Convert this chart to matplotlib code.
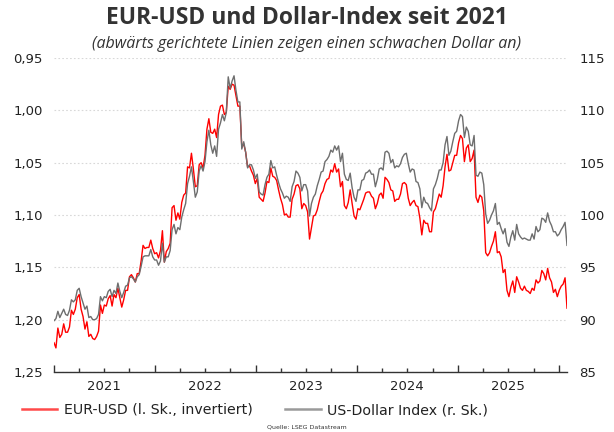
import matplotlib
matplotlib.use("Agg")
import matplotlib.pyplot as plt
import matplotlib.dates as mdates
from matplotlib.lines import Line2D
from matplotlib.ticker import FuncFormatter, NullFormatter
import pandas as pd

# weekly values (Fridays)
eurusd_2021 = [1.222, 1.227, 1.208, 1.217, 1.214, 1.204, 1.212, 1.212, 1.207, 1.191,
               1.195, 1.190, 1.179, 1.176, 1.190, 1.197, 1.209, 1.202, 1.216, 1.214,
               1.218, 1.219, 1.216, 1.211, 1.186, 1.194, 1.186, 1.187, 1.180, 1.177,
               1.187, 1.176, 1.179, 1.170, 1.179, 1.188, 1.181, 1.172, 1.172, 1.159,
               1.157, 1.160, 1.164, 1.156, 1.156, 1.144, 1.129, 1.132, 1.131, 1.131,
               1.124, 1.132, 1.137]
eurusd_2022 = [1.136, 1.141, 1.134, 1.115, 1.145, 1.135, 1.132, 1.127, 1.093, 1.091,
               1.105, 1.098, 1.104, 1.088, 1.081, 1.079, 1.054, 1.055, 1.041, 1.056,
               1.073, 1.072, 1.052, 1.050, 1.055, 1.043, 1.018, 1.008, 1.021, 1.022,
               1.018, 1.026, 1.004, 0.996, 0.995, 1.004, 1.002, 0.977, 0.980, 0.975,
               0.976, 0.986, 0.996, 0.996, 1.035, 1.032, 1.040, 1.054, 1.053, 1.058,
               1.062, 1.070]
eurusd_2023 = [1.065, 1.083, 1.085, 1.087, 1.079, 1.068, 1.069, 1.055, 1.063, 1.064,
               1.067, 1.076, 1.084, 1.090, 1.100, 1.099, 1.102, 1.102, 1.085, 1.080,
               1.072, 1.071, 1.075, 1.094, 1.089, 1.091, 1.097, 1.123, 1.112, 1.101,
               1.100, 1.095, 1.087, 1.080, 1.077, 1.070, 1.066, 1.065, 1.057, 1.059,
               1.051, 1.059, 1.056, 1.073, 1.068, 1.091, 1.094, 1.088, 1.076, 1.089,
               1.101, 1.104]
eurusd_2024 = [1.094, 1.095, 1.090, 1.085, 1.079, 1.078, 1.078, 1.082, 1.084, 1.094,
               1.089, 1.081, 1.079, 1.084, 1.064, 1.066, 1.069, 1.076, 1.077, 1.087,
               1.085, 1.085, 1.080, 1.070, 1.069, 1.071, 1.084, 1.091, 1.088, 1.086,
               1.091, 1.092, 1.103, 1.119, 1.105, 1.108, 1.108, 1.116, 1.116, 1.097,
               1.094, 1.087, 1.080, 1.083, 1.072, 1.054, 1.042, 1.058, 1.057, 1.050,
               1.043, 1.043]
eurusd_2025 = [1.031, 1.024, 1.027, 1.049, 1.036, 1.033, 1.049, 1.046, 1.038, 1.083,
               1.088, 1.081, 1.083, 1.096, 1.136, 1.139, 1.136, 1.130, 1.125, 1.116,
               1.136, 1.135, 1.140, 1.155, 1.152, 1.172, 1.178, 1.169, 1.163, 1.174,
               1.159, 1.164, 1.170, 1.172, 1.168, 1.172, 1.173, 1.175, 1.170, 1.172,
               1.162, 1.165, 1.163, 1.153, 1.156, 1.162, 1.151, 1.160, 1.164, 1.174,
               1.171, 1.178]
eurusd_2026 = [1.172, 1.168, 1.166, 1.160, 1.189]

dxy_2021 = [89.9, 90.1, 90.8, 90.2, 90.6, 91.0, 90.5, 90.4, 90.9, 91.9,
            91.7, 91.9, 92.8, 93.0, 92.2, 91.6, 91.0, 91.3, 90.2, 90.3,
            90.0, 90.0, 90.1, 90.5, 92.2, 91.8, 92.2, 92.1, 92.7, 92.9,
            92.2, 92.8, 92.5, 93.5, 92.7, 92.1, 92.6, 93.2, 93.3, 94.0,
            94.1, 93.9, 93.6, 94.1, 94.3, 95.1, 96.0, 96.1, 96.1, 96.1,
            96.7, 96.0, 95.7]
dxy_2022 = [95.7, 95.2, 95.6, 97.3, 95.5, 96.0, 96.0, 96.6, 98.6, 99.1,
            98.2, 98.8, 98.6, 99.8, 100.5, 101.1, 103.0, 103.7, 104.6, 103.2,
            101.7, 102.2, 104.2, 104.7, 104.2, 105.1, 107.0, 108.1, 106.7, 105.9,
            106.6, 105.6, 108.2, 108.8, 109.6, 109.0, 109.8, 113.2, 112.1, 112.8,
            113.3, 111.9, 110.8, 110.8, 106.3, 107.0, 106.0, 104.5, 104.8, 104.8,
            104.3, 103.5]
dxy_2023 = [103.9, 102.2, 102.0, 101.9, 102.9, 103.6, 103.9, 105.2, 104.5, 104.6,
            103.8, 103.1, 102.5, 102.1, 101.6, 101.8, 101.7, 101.3, 102.7, 103.2,
            104.2, 104.0, 103.6, 102.3, 102.9, 102.9, 102.3, 99.9, 101.1, 101.7,
            102.0, 102.8, 103.4, 104.1, 104.2, 105.1, 105.3, 105.6, 106.2, 106.0,
            106.6, 106.2, 106.6, 105.1, 105.9, 103.9, 103.4, 103.3, 104.0, 102.6,
            101.7, 101.3]
dxy_2024 = [102.4, 102.4, 103.3, 103.4, 104.0, 104.1, 104.3, 103.9, 103.9, 102.7,
            103.4, 104.4, 104.5, 104.3, 106.0, 106.1, 105.9, 105.0, 105.3, 104.5,
            104.7, 104.6, 104.9, 105.5, 105.8, 105.9, 104.9, 104.1, 104.4, 104.3,
            103.2, 103.1, 102.5, 100.7, 101.7, 101.2, 101.1, 100.7, 100.4, 102.5,
            102.9, 103.5, 104.3, 104.3, 105.0, 106.7, 107.5, 105.7, 106.1, 107.0,
            107.8, 108.0]
dxy_2025 = [109.0, 109.6, 109.4, 107.4, 108.4, 108.0, 106.7, 106.6, 107.6, 103.8,
            103.7, 104.1, 104.0, 102.9, 100.1, 99.2, 99.5, 100.0, 100.4, 101.1,
            99.1, 99.3, 98.7, 98.2, 98.7, 97.4, 97.0, 97.9, 98.5, 97.6,
            99.1, 98.2, 97.9, 97.7, 97.8, 97.7, 97.6, 97.6, 98.2, 97.7,
            98.9, 98.4, 98.6, 99.7, 99.6, 99.3, 100.2, 99.4, 99.0, 98.4,
            98.4, 98.0]
dxy_2026 = [98.2, 98.6, 98.9, 99.3, 97.1]

eurusd = eurusd_2021 + eurusd_2022 + eurusd_2023 + eurusd_2024 + eurusd_2025 + eurusd_2026
dxy = dxy_2021 + dxy_2022 + dxy_2023 + dxy_2024 + dxy_2025 + dxy_2026
dates = pd.date_range("2021-01-01", periods=len(eurusd), freq="W-FRI")

left_ticks = [0.95, 1.00, 1.05, 1.10, 1.15, 1.20, 1.25]
right_ticks = [85, 90, 95, 100, 105, 110, 115]

RED = "#ff0000"
GREY = "#6e6e6e"
TXT = "#222222"

fig = plt.figure(figsize=(6.14, 4.32), dpi=100)
ax = fig.add_axes([54 / 614, 1 - 372 / 432, (567 - 54) / 614, (372 - 58) / 432])
ax2 = ax.twinx()

ax.plot(dates, eurusd, color=RED, lw=1.0)
ax2.plot(dates, dxy, color=GREY, lw=1.0)

ax.set_xlim(pd.Timestamp("2021-01-01"), pd.Timestamp("2026-01-30"))
ax.set_ylim(1.25, 0.95)
ax2.set_ylim(85, 115)

ax.set_yticks(left_ticks)
ax.yaxis.set_major_formatter(FuncFormatter(lambda v, _: f"{v:.2f}".replace(".", ",")))
ax2.set_yticks(right_ticks)

ax.grid(axis="y", color="#d8d8d8", lw=0.8, ls=(0, (1.5, 2)))
for a in (ax, ax2):
    for side in ("left", "right", "top", "bottom"):
        a.spines[side].set_visible(False)
ax.spines["bottom"].set_visible(True)
ax.spines["bottom"].set_color("#333333")
ax.spines["bottom"].set_linewidth(1.0)

ax.tick_params(axis="y", length=0, pad=8, labelsize=9.5, labelcolor=TXT)
ax2.tick_params(axis="y", length=0, pad=9, labelsize=9.5, labelcolor=TXT)

ax.xaxis.set_major_locator(mdates.YearLocator())
ax.xaxis.set_major_formatter(NullFormatter())
ax.xaxis.set_minor_locator(mdates.MonthLocator(bymonth=[4, 7, 10]))


def year_label(x, _):
    d = mdates.num2date(x)
    return str(d.year) if d.month == 7 else ""


ax.xaxis.set_minor_formatter(FuncFormatter(year_label))
ax.tick_params(axis="x", which="major", direction="in", length=5, width=1, color="#333333")
ax.tick_params(axis="x", which="minor", direction="in", length=3, width=1, color="#333333",
               labelsize=9.5, labelcolor=TXT, pad=6)

fig.text(0.5, 1 - 18 / 432, "EUR-USD und Dollar-Index seit 2021", ha="center", va="center",
         fontsize=16.5, fontweight="bold", family="Open Sans", color="#333333")
fig.text(0.5, 1 - 44 / 432, "(abwärts gerichtete Linien zeigen einen schwachen Dollar an)",
         ha="center", va="center", fontsize=11.5, style="italic", family="Open Sans",
         color="#333333")

handles = [Line2D([], [], color="#ff4a4a", lw=1.8), Line2D([], [], color="#9a9a9a", lw=1.8)]
labels = ["EUR-USD (l. Sk., invertiert)", "US-Dollar Index (r. Sk.)"]
fig.legend(handles, labels, loc="center left", bbox_to_anchor=(22 / 614, 1 - 410 / 432),
           ncol=2, frameon=False, borderpad=0, borderaxespad=0, handlelength=2.5,
           handletextpad=0.45, columnspacing=2.3, fontsize=10.2, labelcolor=TXT)

fig.text(0.5, 1 - 427 / 432, "Quelle: LSEG Datastream", ha="center", va="center",
         fontsize=4.5, color="#333333")

fig.savefig("out.png", dpi=100)
